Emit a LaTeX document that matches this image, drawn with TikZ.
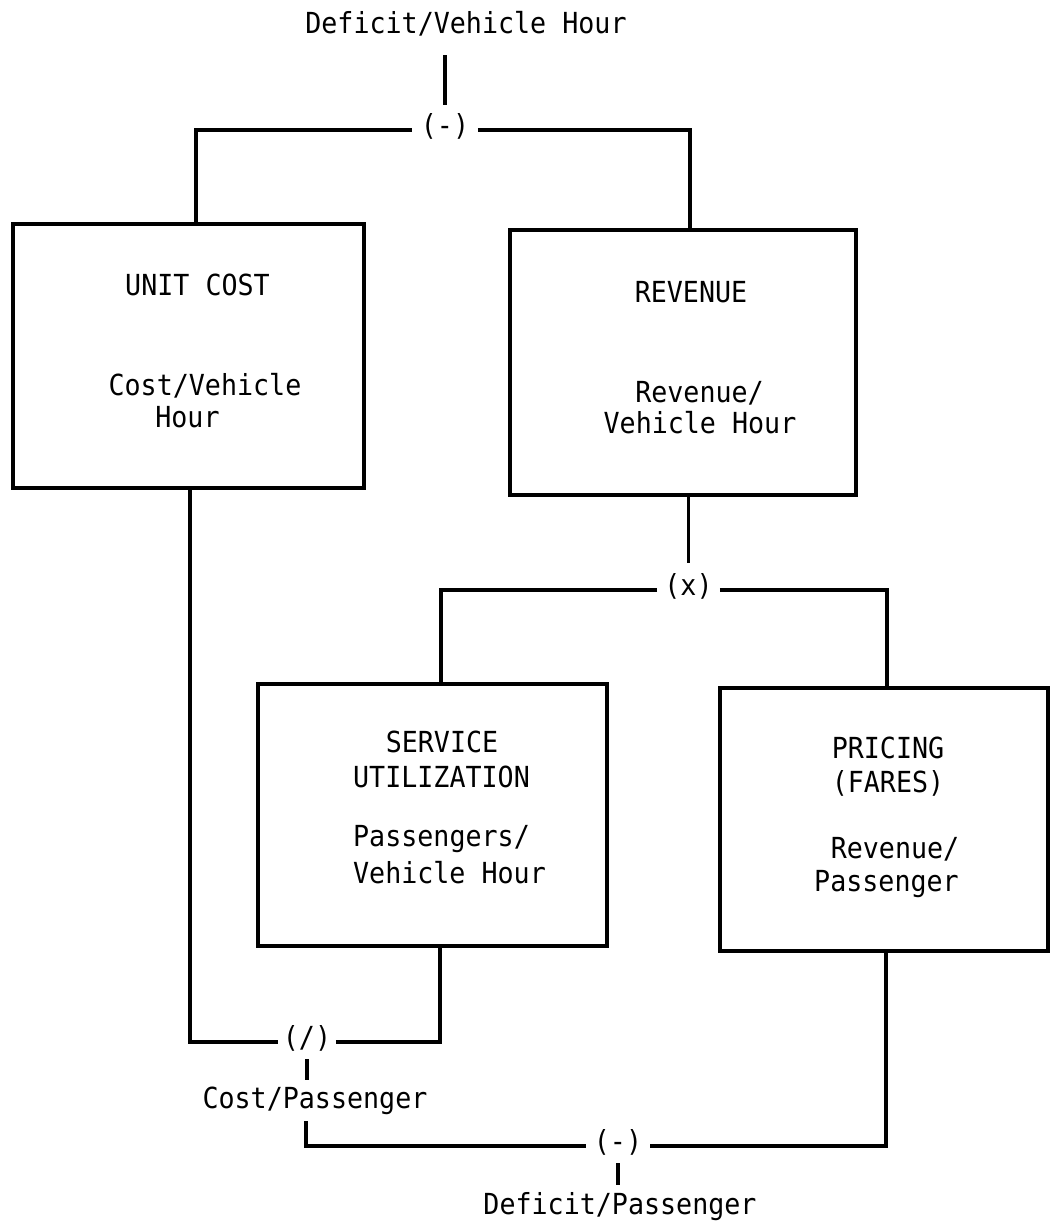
\documentclass[tikz,border=0pt]{standalone}
\usepackage{fontspec}
\newfontfamily\typew[FakeStretch=0.92]{DejaVu Sans Mono}
\begin{document}
\begin{tikzpicture}[x=1pt,y=-1pt,
  box/.style={draw, line width=4.5pt, inner sep=0pt},
  conn/.style={line width=3.2pt},
  txt/.style={font=\typew\fontsize{29}{33}\selectfont, inner sep=0pt, anchor=base},
  opnode/.style={font=\typew\fontsize{29}{33}\selectfont, inner ysep=0pt, text height=22pt, text depth=12pt}]
\useasboundingbox (0,0) rectangle (1050,1226);
% boxes
\node[box, minimum width=351pt, minimum height=264pt] (uc) at (188.5,356) {};
\node[box, minimum width=346pt, minimum height=265pt] (rev) at (683,362.5) {};
\node[box, minimum width=349pt, minimum height=262pt] (su) at (432.5,815) {};
\node[box, minimum width=328pt, minimum height=263pt] (pr) at (884,819.5) {};
% box texts
\node[txt] (uct) at (197.5,295) {UNIT COST};
\node[txt] (ucs1) at (205,395) {Cost/Vehicle};
\node[txt] (ucs2) at (187.5,427) {Hour};
\node[txt] (revt) at (691,302) {REVENUE};
\node[txt] (revs1) at (699.5,402) {Revenue/};
\node[txt] (revs2) at (700,433) {Vehicle Hour};
\node[txt] (sut1) at (442,752) {SERVICE};
\node[txt] (sut2) at (441.5,787) {UTILIZATION};
\node[txt] (sus1) at (441.5,846) {Passengers/};
\node[txt] (sus2) at (449.5,883) {Vehicle Hour};
\node[txt] (prt1) at (888,758) {PRICING};
\node[txt] (prt2) at (888,792) {(FARES)};
\node[txt] (prs1) at (895,858) {Revenue/};
\node[txt] (prs2) at (886.5,891) {Passenger};
% outer labels
\node[txt] (dvh) at (466,33) {Deficit/Vehicle Hour};
\node[txt] (cp) at (315,1108) {Cost/Passenger};
\node[txt] (dp) at (620,1214) {Deficit/Passenger};
% operators
\node[opnode, inner xsep=8.5pt] (op1) at (445,130) {(-)};
\node[opnode, inner xsep=7pt] (opx) at (688.5,590) {(x)};
\node[opnode, inner xsep=4.5pt] (opd) at (307,1042) {(/)};
\node[opnode, inner xsep=8pt] (op2) at (618,1146) {(-)};
\coordinate (t1) at (446,63);
\coordinate (t2) at (306,1080);
\coordinate (t3) at (618,1185);
% connectors
\draw[conn] ([yshift=8pt]op1.north) -- ([yshift=8pt]op1.north |- t1);
\draw[conn] ([xshift=7.5pt]uc.north) |- (op1.west);
\draw[conn] (op1.east) -| ([xshift=7pt]rev.north);
\draw[conn, shorten >=10pt] (rev.south -| opx) -- (opx.north);
\draw[conn] (opx.west) -| ([xshift=8.5pt]su.north);
\draw[conn] (opx.east) -| ([xshift=3pt]pr.north);
\draw[conn] ([xshift=1.5pt]uc.south) |- (opd.west);
\draw[conn] (opd.east) -| ([xshift=7.5pt]su.south);
\draw[conn] (opd.south) -- (opd.south |- t2);
\draw[conn] ([xshift=-9pt,yshift=-7pt]cp.south) |- (op2.west);
\draw[conn] (op2.east) -| ([xshift=2pt]pr.south);
\draw[conn] (op2.south) -- (op2.south |- t3);
\end{tikzpicture}
\end{document}
